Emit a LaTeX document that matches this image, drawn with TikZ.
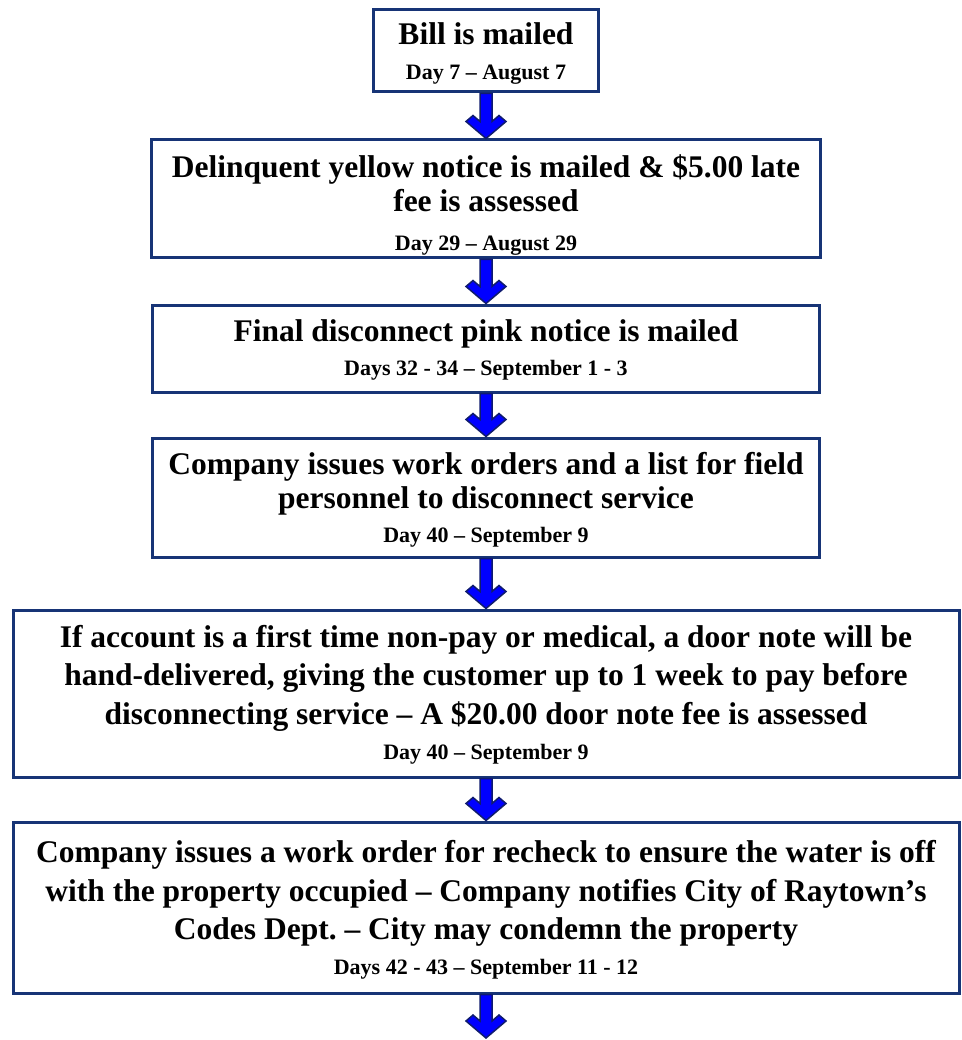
\documentclass[tikz,border=0pt]{standalone}
\usepackage{fontspec}
\setmainfont{Liberation Serif Bold}

\definecolor{boxline}{RGB}{23,52,118}
\definecolor{arrowfill}{RGB}{0,0,255}
\definecolor{arrowline}{RGB}{16,28,110}

\newcommand\steptext{\fontsize{31.5}{34}\selectfont\spaceskip=0.25em plus 0.1em\relax}
\newcommand\widetext{\fontsize{31.5}{38.5}\selectfont\spaceskip=0.25em plus 0.1em\relax}
\newcommand\datetext{\fontsize{22}{26}\selectfont\spaceskip=0.25em plus 0.1em\relax}

% block arrow from one anchor to another
\newcommand\flowarrow[2]{%
  \draw[flow] ([xshift=-6]#1) -- ([xshift=-6,yshift=17]#2) -- ([xshift=-13,yshift=23]#2)
    -- ([xshift=-20,yshift=17]#2) -- (#2) -- ([xshift=20,yshift=17]#2)
    -- ([xshift=13,yshift=23]#2) -- ([xshift=6,yshift=17]#2) -- ([xshift=6]#1) -- cycle;}

\begin{document}
\begin{tikzpicture}[x=1pt, y=1pt,
    stepbox/.style={draw=boxline, line width=3pt, fill=white, inner xsep=10pt, inner ysep=0pt,
        execute at begin node=\centering\frenchspacing},
    flow/.style={fill=arrowfill, draw=arrowline, line width=1.5pt, line join=miter}]
    \useasboundingbox (0,0) rectangle (961,-1040);

    \coordinate (Row1) at (486,-51);
    \coordinate (Row2) at (486,-199);
    \coordinate (Row3) at (486,-348.5);
    \coordinate (Row4) at (486,-497.5);
    \coordinate (Row5) at (486,-693.5);
    \coordinate (Row6) at (486,-907.5);
    \coordinate (tail) at (486,-1038);

    % Steps
    \node[stepbox, text width=205, minimum height=82] (mailed) at (Row1)
        {\steptext\rule{0pt}{26.4pt}Bill is mailed\par\vspace{9pt}{\datetext Day 7 – August 7\par}};
    \node[stepbox, text width=649, minimum height=118] (yellow) at (Row2)
        {\steptext\rule{0pt}{34.5pt}Delinquent yellow notice is mailed \& \$5.00 late\\ fee is assessed\par\vspace{13pt}{\datetext Day 29 – August 29\par}};
    \node[stepbox, text width=647, minimum height=87] (pink) at (Row3)
        {\steptext\rule{0pt}{25.5pt}Final disconnect pink notice is mailed\par\vspace{8pt}{\datetext Days 32 - 34 – September 1 - 3\par}};
    \node[stepbox, text width=647, minimum height=119] (orders) at (Row4)
        {\steptext\rule{0pt}{26.7pt}Company issues work orders and a list for field\\ personnel to disconnect service\par\vspace{7.5pt}{\datetext Day 40 – September 9\par}};
    \node[stepbox, text width=926, minimum height=167] (doornote) at (Row5)
        {\widetext\rule{0pt}{24pt}If account is a first time non-pay or medical, a door note will be\\ hand-delivered, giving the customer up to 1 week to pay before\\ disconnecting service – A \$20.00 door note fee is assessed\par\vspace{9pt}{\datetext Day 40 – September 9\par}};
    \node[stepbox, text width=926, minimum height=171] (recheck) at (Row6)
        {\widetext\rule{0pt}{27.7pt}Company issues a work order for recheck to ensure the water is off\\ with the property occupied – Company notifies City of Raytown’s\\ Codes Dept. – City may condemn the property\par\vspace{9pt}{\datetext Days 42 - 43 – September 11 - 12\par}};

    % Arrows
    \flowarrow{mailed.south}{yellow.north}
    \flowarrow{yellow.south}{pink.north}
    \flowarrow{pink.south}{orders.north}
    \flowarrow{orders.south}{doornote.north}
    \flowarrow{doornote.south}{recheck.north}
    \flowarrow{recheck.south}{tail}

\end{tikzpicture}
\end{document}
